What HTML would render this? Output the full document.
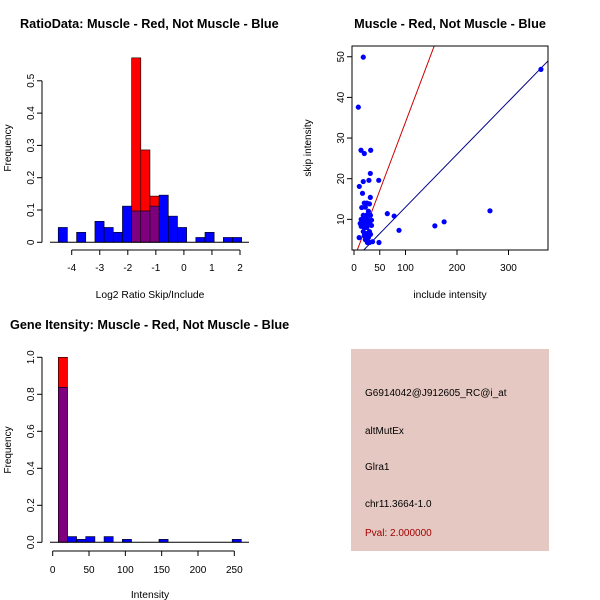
<!DOCTYPE html>
<html><head><meta charset="utf-8"><style>
html,body{margin:0;padding:0;background:#fff}
svg{display:block;font-family:"Liberation Sans",sans-serif}
</style></head><body>
<svg id="chart" width="600" height="600" viewBox="0 0 600 600"></svg>
<script>
// ---- Data: ratio histogram ----
const ratioBlueBins = [0,2,4,5,6,7,8,9,10,11,12,13,15,16,18,19];
const ratioBlueVals = [0.046,0.031,0.065,0.046,0.031,0.112,0.097,0.097,0.112,0.146,0.081,0.046,0.015,0.031,0.015,0.015];
const ratioRedBins = [8,9,10];
const ratioRedVals = [0.571,0.286,0.143];
const ratioXTicks = [-4,-3,-2,-1,0,1,2];
const ratioYTicks = [0,0.1,0.2,0.3,0.4,0.5];
const ratioBinStart = -4.48, ratioBinWidth = 0.327;
// ---- Data: scatter ----
const incX = [18,8.4,13.6,20,32.4,31.7,48,29,10.3,18,16.5,31.7,64.7,78,87.4,48.5,157,175,264,363,10,
 20,25,30,22,15,28,18,24,32,14,20,26,34,12,17,22,30,34,14,20,25,30,18,24,32,20,28,26,30,36,22];
const skipY = [49.9,37.6,27,26.2,27,21.3,19.6,19.6,18.1,19.3,16.4,15.4,11.4,10.8,7.3,4.3,8.4,9.4,12.1,46.9,5.5,
 14,14,13.8,13,12.9,12,11,11,11,10,10,10,9.8,9,9,9,9,8.5,8.3,8,8,7,7,6.5,6.3,6,5.5,4.3,4.3,4.5,5];
const scatXTicks = [0,50,100,200,300];
const scatYTicks = [10,20,30,40,50];
const muscleSlope = 0.336, muscleIntercept = 0.31;
const notMuscleSlope = 0.13, notMuscleIntercept = 0;
// ---- Data: intensity histogram ----
const intBlueBins = [0,1,2,3,5,7,11,19];
const intBlueVals = [0.838,0.031,0.016,0.031,0.031,0.016,0.016,0.016];
const intRedBins = [0];
const intRedVals = [1.0];
const intXTicks = [0,50,100,150,200,250];
const intYTicks = [0,0.2,0.4,0.6,0.8,1.0];
const intBinStart = 7.7, intBinWidth = 12.6;

const NS="http://www.w3.org/2000/svg";
const svg=document.getElementById('chart');
function mk(tag,attrs,parent){const e=document.createElementNS(NS,tag);for(const k in attrs)e.setAttribute(k,attrs[k]);(parent||svg).appendChild(e);return e;}
function txt(s,attrs,parent){const e=mk('text',attrs,parent);e.textContent=s;return e;}
const TF=12.7;

const bg=mk('rect',{x:0,y:0,width:600,height:600,fill:'#fff'});



// ===== Panel 1 =====
const p1=mk('g',{});


const r1x=v=>71.7+(v+4)*28.05, r1y=v=>242.3-v*323;
const t1=txt('RatioData: Muscle - Red, Not Muscle - Blue',{x:20,y:28,'font-size':TF,'font-weight':'bold'},p1);


function binX1(i){return r1x(ratioBinStart+i*ratioBinWidth);}
ratioRedBins.forEach((b,i)=>{const y=r1y(ratioRedVals[i]);const r=mk('rect',{x:binX1(b),y:y,width:binX1(b+1)-binX1(b),height:r1y(0)-y,fill:'#ff0000',stroke:'#000','stroke-width':0.6},p1);

});
ratioBlueBins.forEach((b,i)=>{const v=ratioBlueVals[i];const ri=ratioRedBins.indexOf(b);const y=r1y(v);
const r=mk('rect',{x:binX1(b),y:y,width:binX1(b+1)-binX1(b),height:r1y(0)-y,fill:ri>=0?'#7f007f':'#0000ff',stroke:'#000','stroke-width':0.6},p1);

});
mk('line',{x1:r1x(ratioXTicks[0]),x2:r1x(ratioXTicks[ratioXTicks.length-1]),y1:250,y2:250,stroke:'#000'},p1);
mk('line',{x1:50,x2:249,y1:242.3,y2:242.3,stroke:'#000'},p1);
ratioXTicks.forEach(t=>{mk('line',{x1:r1x(t),x2:r1x(t),y1:250,y2:255,stroke:'#000'},p1);
const l=txt(String(t),{x:r1x(t),y:271,'font-size':10,'text-anchor':'middle'},p1);

});
mk('line',{x1:42,x2:42,y1:r1y(0),y2:r1y(0.5),stroke:'#000'},p1);
ratioYTicks.forEach(t=>{mk('line',{x1:37,x2:42,y1:r1y(t),y2:r1y(t),stroke:'#000'},p1);
const l=txt(String(t),{x:34,y:r1y(t),'font-size':10,'text-anchor':'middle',transform:`rotate(-90 34 ${r1y(t)})`},p1);

});
const xl1=txt('Log2 Ratio Skip/Include',{x:150,y:298,'font-size':10.3,'text-anchor':'middle'},p1);


const yl1=txt('Frequency',{x:11,y:148,'font-size':10,'text-anchor':'middle',transform:'rotate(-90 11 148)'},p1);



// ===== Panel 2 =====
const p2=mk('g',{});


const sx=v=>354+v*0.515, sy=v=>260-v*4.065;
const t2=txt('Muscle - Red, Not Muscle - Blue',{x:450,y:28,'font-size':TF,'font-weight':'bold','text-anchor':'middle'},p2);


const cp=mk('clipPath',{id:'sc'},p2);mk('rect',{x:352,y:46,width:196,height:204},cp);
const lg=mk('g',{'clip-path':'url(#sc)'},p2);
const xmin=-10,xmax=400;
const lr=mk('line',{x1:sx(xmin),y1:sy(muscleSlope*xmin+muscleIntercept),x2:sx(xmax),y2:sy(muscleSlope*xmax+muscleIntercept),stroke:'#cc0000','stroke-width':1},lg);


const lb=mk('line',{x1:sx(xmin),y1:sy(notMuscleSlope*xmin+notMuscleIntercept),x2:sx(xmax),y2:sy(notMuscleSlope*xmax+notMuscleIntercept),stroke:'#00008b','stroke-width':1},lg);


incX.forEach((x,i)=>{const c=mk('circle',{cx:sx(x),cy:sy(skipY[i]),r:2.6,fill:'#0000ff'},lg);

});
const fr=mk('rect',{x:352,y:46,width:196,height:204,fill:'none',stroke:'#000'},p2);


scatXTicks.forEach(t=>{mk('line',{x1:sx(t),x2:sx(t),y1:250,y2:255,stroke:'#000'},p2);
const l=txt(String(t),{x:sx(t),y:271,'font-size':10,'text-anchor':'middle'},p2);

});
scatYTicks.forEach(t=>{mk('line',{x1:347,x2:352,y1:sy(t),y2:sy(t),stroke:'#000'},p2);
const l=txt(String(t),{x:344,y:sy(t),'font-size':10,'text-anchor':'middle',transform:`rotate(-90 344 ${sy(t)})`},p2);

});
const xl2=txt('include intensity',{x:450,y:298,'font-size':10.3,'text-anchor':'middle'},p2);


const yl2=txt('skip intensity',{x:311,y:148,'font-size':10,'text-anchor':'middle',transform:'rotate(-90 311 148)'},p2);



// ===== Panel 3 =====
const p3=mk('g',{});


const ix=v=>52.7+v*0.7264, iy=v=>542.3-v*185;
const t3=txt('Gene Itensity: Muscle - Red, Not Muscle - Blue',{x:10,y:329,'font-size':TF,'font-weight':'bold'},p3);


function binX3(i){return ix(intBinStart+i*intBinWidth);}
intRedBins.forEach((b,i)=>{const y=iy(intRedVals[i]);const r=mk('rect',{x:binX3(b),y:y,width:binX3(b+1)-binX3(b),height:iy(0)-y,fill:'#ff0000',stroke:'#000','stroke-width':0.6},p3);

});
intBlueBins.forEach((b,i)=>{const ri=intRedBins.indexOf(b);const y=iy(intBlueVals[i]);
const r=mk('rect',{x:binX3(b),y:y,width:binX3(b+1)-binX3(b),height:iy(0)-y,fill:ri>=0?'#7f007f':'#0000ff',stroke:'#000','stroke-width':0.6},p3);

});
mk('line',{x1:50,x2:249,y1:542.3,y2:542.3,stroke:'#000'},p3);
mk('line',{x1:ix(0),x2:ix(250),y1:551,y2:551,stroke:'#000'},p3);
intXTicks.forEach(t=>{mk('line',{x1:ix(t),x2:ix(t),y1:551,y2:556,stroke:'#000'},p3);
const l=txt(String(t),{x:ix(t),y:573,'font-size':10,'text-anchor':'middle'},p3);

});
mk('line',{x1:42,x2:42,y1:iy(0),y2:iy(1),stroke:'#000'},p3);
intYTicks.forEach(t=>{mk('line',{x1:37,x2:42,y1:iy(t),y2:iy(t),stroke:'#000'},p3);
const l=txt(t.toFixed(1),{x:34,y:iy(t),'font-size':10,'text-anchor':'middle',transform:`rotate(-90 34 ${iy(t)})`},p3);

});
const xl3=txt('Intensity',{x:150,y:598,'font-size':10.3,'text-anchor':'middle'},p3);


const yl3=txt('Frequency',{x:11,y:450,'font-size':10,'text-anchor':'middle',transform:'rotate(-90 11 450)'},p3);



// ===== Panel 4 =====
const p4=mk('g',{});


mk('rect',{x:351,y:349,width:198,height:202,fill:'#e6c8c2'},p4);
const infoLines=['G6914042@J912605_RC@i_at','altMutEx','Glra1','chr11.3664-1.0'];
const infoY=[396,434,470,507];
const infoNames=['probe-id','event-type','gene-name','location'];
infoLines.forEach((s,i)=>{const t=txt(s,{x:365,y:infoY[i],'font-size':10,fill:'#000'},p4);

});
const pv=txt('Pval: 2.000000',{x:365,y:536,'font-size':10,fill:'#a00000'},p4);


</script>
</body></html>
